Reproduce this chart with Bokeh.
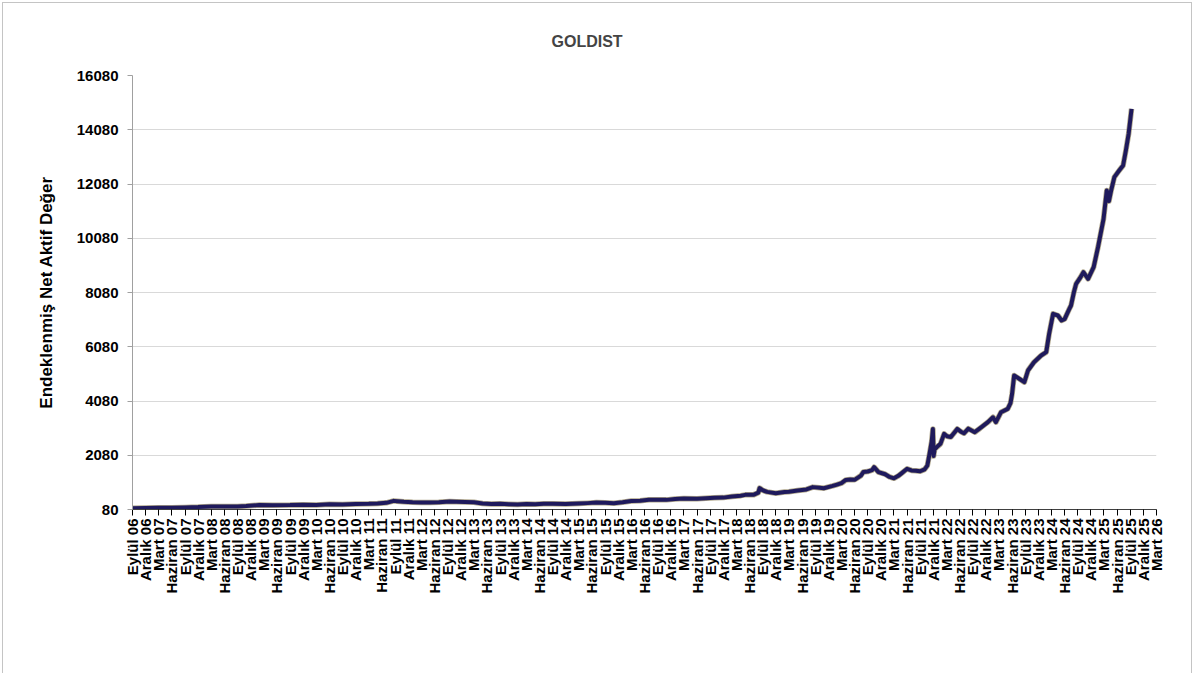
import math
from bokeh.plotting import figure
from bokeh.models import FixedTicker, Range1d, ColumnDataSource
from bokeh.embed import file_html
from bokeh.resources import INLINE

dates = [
    "2006-09-01", "2006-12-01", "2007-03-01", "2007-06-01", "2007-09-01", "2007-12-01",
    "2008-03-01", "2008-06-01", "2008-09-01", "2008-11-01", "2009-02-01", "2009-05-01",
    "2009-09-01", "2009-12-01", "2010-03-01", "2010-06-01", "2010-09-01", "2010-12-01",
    "2011-03-01", "2011-05-01", "2011-07-01", "2011-08-22", "2011-09-15", "2011-11-01",
    "2012-01-01", "2012-03-01", "2012-05-01", "2012-07-01", "2012-09-15", "2012-11-01",
    "2013-01-01", "2013-03-01", "2013-05-01", "2013-07-01", "2013-09-01", "2013-11-01",
    "2014-01-01", "2014-03-01", "2014-05-01", "2014-07-01", "2014-09-01", "2014-12-01",
    "2015-03-01", "2015-05-01", "2015-07-01", "2015-09-01", "2015-11-01", "2016-01-01",
    "2016-03-01", "2016-05-01", "2016-07-01", "2016-09-01", "2016-11-01", "2017-01-01",
    "2017-03-01", "2017-06-01", "2017-08-01", "2017-10-01", "2017-12-01", "2018-02-01",
    "2018-04-01", "2018-05-01", "2018-07-01", "2018-08-01", "2018-08-10", "2018-09-01",
    "2018-10-01", "2018-12-01", "2019-02-01", "2019-03-01", "2019-05-01", "2019-07-01",
    "2019-08-15", "2019-10-01", "2019-11-01", "2020-01-01", "2020-02-01", "2020-03-01",
    "2020-04-01", "2020-05-01", "2020-06-01", "2020-07-15", "2020-08-01", "2020-09-01",
    "2020-10-01", "2020-10-15", "2020-11-15", "2021-01-01", "2021-02-01", "2021-03-01",
    "2021-04-01", "2021-05-01", "2021-06-01", "2021-07-01", "2021-08-01", "2021-09-01",
    "2021-10-01", "2021-10-20", "2021-11-05", "2021-11-20", "2021-11-28", "2021-12-03",
    "2021-12-10", "2021-12-25", "2022-01-20", "2022-02-15", "2022-03-05", "2022-04-01",
    "2022-05-15", "2022-06-10", "2022-07-01", "2022-08-01", "2022-09-15", "2022-10-15",
    "2022-11-01", "2022-12-15", "2023-01-20", "2023-02-10", "2023-03-15", "2023-05-01",
    "2023-05-20", "2023-06-01", "2023-06-15", "2023-07-20", "2023-08-25", "2023-09-20",
    "2023-11-01", "2023-12-20", "2024-01-25", "2024-02-15", "2024-03-12", "2024-04-15",
    "2024-05-10", "2024-06-01", "2024-07-01", "2024-07-15", "2024-08-05", "2024-08-20",
    "2024-09-15", "2024-10-10", "2024-11-12", "2024-12-20", "2025-01-20", "2025-02-28",
    "2025-03-20", "2025-04-05", "2025-04-20", "2025-05-12", "2025-06-15", "2025-07-12",
    "2025-08-01", "2025-08-20", "2025-09-10",
]

nav_values = [
    130, 138, 142, 145, 152, 168,
    195, 188, 192, 205, 245, 235,
    242, 258, 250, 272, 265, 285,
    288, 300, 325, 398, 385, 362,
    345, 340, 338, 345, 378, 368,
    358, 345, 300, 285, 295, 278,
    268, 282, 278, 288, 290, 280,
    300, 315, 335, 330, 312, 345,
    395, 405, 440, 442, 435, 470,
    482, 475, 492, 510, 518, 560,
    590, 620, 628, 700, 870, 790,
    730, 682, 722, 735, 780, 820,
    905, 880, 865, 950, 1000, 1050,
    1170, 1185, 1175, 1330, 1460, 1480,
    1530, 1640, 1460, 1380, 1280, 1230,
    1320, 1450, 1580, 1520, 1510, 1490,
    1560, 1700, 2130, 2600, 3050, 2050,
    2300, 2380, 2500, 2870, 2780, 2750,
    3050, 2950, 2890, 3060, 2930, 3050,
    3115, 3300, 3480, 3300, 3667, 3790,
    4000, 4343, 5020, 4900, 4773, 5205,
    5510, 5757, 5880, 6557, 7295, 7232,
    7050, 7100, 7450, 7600, 8100, 8400,
    8600, 8828, 8584, 9012, 9750, 10795,
    11840, 11450, 11840, 12331, 12578, 12762,
    13315, 13930, 14850,
]

tick_labels = [
    "Eylül 06", "Aralık 06", "Mart 07", "Haziran 07", "Eylül 07", "Aralık 07",
    "Mart 08", "Haziran 08", "Eylül 08", "Aralık 08", "Mart 09", "Haziran 09",
    "Eylül 09", "Aralık 09", "Mart 10", "Haziran 10", "Eylül 10", "Aralık 10",
    "Mart 11", "Haziran 11", "Eylül 11", "Aralık 11", "Mart 12", "Haziran 12",
    "Eylül 12", "Aralık 12", "Mart 13", "Haziran 13", "Eylül 13", "Aralık 13",
    "Mart 14", "Haziran 14", "Eylül 14", "Aralık 14", "Mart 15", "Haziran 15",
    "Eylül 15", "Aralık 15", "Mart 16", "Haziran 16", "Eylül 16", "Aralık 16",
    "Mart 17", "Haziran 17", "Eylül 17", "Aralık 17", "Mart 18", "Haziran 18",
    "Eylül 18", "Aralık 18", "Mart 19", "Haziran 19", "Eylül 19", "Aralık 19",
    "Mart 20", "Haziran 20", "Eylül 20", "Aralık 20", "Mart 21", "Haziran 21",
    "Eylül 21", "Aralık 21", "Mart 22", "Haziran 22", "Eylül 22", "Aralık 22",
    "Mart 23", "Haziran 23", "Eylül 23", "Aralık 23", "Mart 24", "Haziran 24",
    "Eylül 24", "Aralık 24", "Mart 25", "Haziran 25", "Eylül 25", "Aralık 25",
    "Mart 26",
]

y_ticks = [80, 2080, 4080, 6080, 8080, 10080, 12080, 14080, 16080]


def month_index(s):
    y, m, d = (int(t) for t in s.split("-"))
    return (y - 2006) * 12 + (m - 9) + (d - 1) / 30.0


xs = [month_index(s) for s in dates]
tick_pos = [3 * i for i in range(len(tick_labels))]
src = ColumnDataSource(data=dict(x=xs, y=nav_values))

FONT = "Liberation Sans"

p = figure(width=1190, height=671, output_backend="svg", toolbar_location=None,
           x_range=Range1d(0, tick_pos[-1]), y_range=Range1d(y_ticks[0], y_ticks[-1]),
           min_border_left=129, min_border_right=37, min_border_top=72,
           min_border_bottom=165, background_fill_color="white",
           border_fill_color="white")
p.outline_line_color = None
p.styles = {"border-left": "1px solid #c4c4c4", "border-top": "1px solid #c4c4c4",
            "border-right": "1px solid #c4c4c4",
            "margin-left": "2px", "margin-top": "2px"}

p.title.text = "GOLDIST"
p.title.text_font = FONT
p.title.text_font_style = "bold"
p.title.text_font_size = "16px"
p.title.align = "left"
p.title.offset = 419
p.title.standoff = 52

# x axis
p.xaxis.ticker = FixedTicker(ticks=tick_pos)
p.xaxis.major_label_overrides = {t: lab for t, lab in zip(tick_pos, tick_labels)}
p.xaxis.major_label_orientation = math.pi / 2
p.xaxis.major_label_text_font = FONT
p.xaxis.major_label_text_font_style = "bold"
p.xaxis.major_label_text_font_size = "15px"
p.xaxis.major_label_text_color = "black"
p.xaxis.major_label_standoff = 3
p.xaxis.major_tick_in = 0
p.xaxis.major_tick_out = 6
p.xaxis.major_tick_line_color = "black"
p.xaxis.minor_tick_line_color = None
p.xaxis.axis_line_color = "#404040"

# y axis
p.yaxis.ticker = FixedTicker(ticks=y_ticks)
p.yaxis.axis_label = "Endeklenmiş Net Aktif Değer"
p.yaxis.axis_label_text_font = FONT
p.yaxis.axis_label_text_font_style = "bold"
p.yaxis.axis_label_text_font_size = "17px"
p.yaxis.axis_label_text_color = "black"
p.yaxis.axis_label_standoff = 18
p.yaxis.major_label_text_font = FONT
p.yaxis.major_label_text_font_style = "bold"
p.yaxis.major_label_text_font_size = "15px"
p.yaxis.major_label_text_color = "black"
p.yaxis.major_label_standoff = 9
p.yaxis.major_tick_in = 0
p.yaxis.major_tick_out = 5
p.yaxis.major_tick_line_color = "#a0a0a0"
p.yaxis.minor_tick_line_color = None
p.yaxis.axis_line_color = "#a0a0a0"

p.xgrid.visible = False
p.ygrid.grid_line_color = "#d9d9d9"

p.line("x", "y", source=src, line_width=5.5, line_color="#7a6b3e", line_alpha=0.6,
       line_join="round")
p.line("x", "y", source=src, line_width=4, line_color="#1f1a5c", line_join="round")

open("out.html", "w").write(file_html(p, INLINE))
